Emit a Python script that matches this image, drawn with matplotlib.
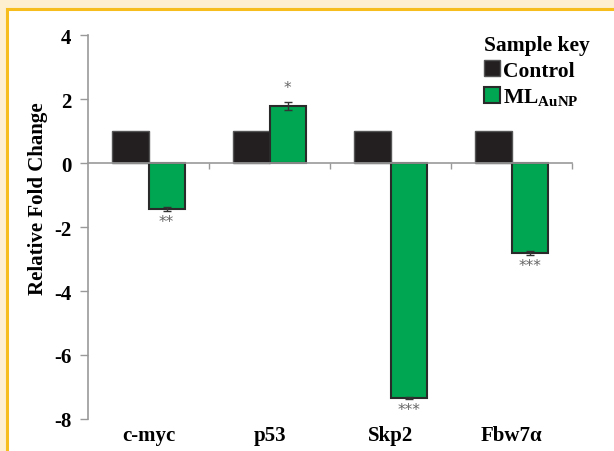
import matplotlib
matplotlib.use("Agg")
import matplotlib.pyplot as plt
import numpy as np
from matplotlib.patches import Rectangle

categories = ["c-myc", "p53", "Skp2", "Fbw7\u03b1"]
control = [1.0, 1.0, 1.0, 1.0]
ml_aunp = [-1.44, 1.78, -7.34, -2.81]
ml_err = [0.05, 0.13, 0.03, 0.06]
stars = ["**", "*", "***", "***"]
yticks = [4, 2, 0, -2, -4, -6, -8]

plt.rcParams['font.family'] = ['Liberation Serif', 'DejaVu Serif']
plt.rcParams['mathtext.fontset'] = 'custom'
plt.rcParams['mathtext.rm'] = 'Liberation Serif:bold'
plt.rcParams['mathtext.bf'] = 'Liberation Serif:bold'

fig = plt.figure(figsize=(6.14, 4.52), dpi=100, facecolor='#fdefcf')
fig.patches.append(Rectangle((7/614, -0.05), 1.1, (452-10)/452 + 0.05, transform=fig.transFigure,
                             facecolor='white', edgecolor='#f6bd1c', linewidth=2.2, zorder=-5))

ax = fig.add_axes([88/614, 1-420/452, 484/614, 384/452])
ax.set_facecolor('none')
x = np.arange(len(categories))
w = 0.30
ax.bar(x - w/2, control, w, color='#231f20', edgecolor='#555555', linewidth=1.0, zorder=2, label='Control')
ax.bar(x + w/2, ml_aunp, w, color='#00a651', edgecolor='#2a2a2a', linewidth=1.5, zorder=2,
       yerr=ml_err, error_kw=dict(ecolor='#333333', elinewidth=1, capsize=3, capthick=1),
       label=r'ML$_{\mathrm{AuNP}}$')

for xi, v, e, s in zip(x, ml_aunp, ml_err, stars):
    if v >= 0:
        ax.text(xi + w/2, v + e + 0.22, s, ha='center', va='bottom', fontsize=11, color='#666666', family='DejaVu Sans')
    else:
        ax.text(xi + w/2, v - e - 0.1, s, ha='center', va='top', fontsize=11, color='#666666', family='DejaVu Sans')

ax.set_xlim(-0.5, 3.5)
ax.set_ylim(-8, 4)
ax.set_yticks(yticks)
ax.set_yticklabels([str(t) for t in yticks], fontsize=15, fontweight='bold')
ax.tick_params(axis='y', direction='out', length=6, width=1, color='#999999', pad=6)
ax.set_ylabel('Relative Fold Change', fontsize=15, fontweight='bold')
ax.yaxis.set_label_coords(-0.083, (420-199)/384)

for s in ['top', 'right']:
    ax.spines[s].set_visible(False)
ax.spines['left'].set_color('#999999')
ax.spines['left'].set_linewidth(1.2)
ax.spines['bottom'].set_position(('data', 0))
ax.spines['bottom'].set_color('#999999')
ax.spines['bottom'].set_linewidth(1.2)
ax.spines['bottom'].set_zorder(3)
ax.set_xticks([0.5, 1.5, 2.5, 3.5])
ax.set_xticklabels([])
ax.tick_params(axis='x', direction='out', length=4, width=1, color='#999999')

sec = ax.secondary_xaxis(0)
sec.set_xticks(x)
sec.set_xticklabels(categories, fontsize=15, fontweight='bold')
sec.tick_params(length=0, pad=4)
sec.spines['bottom'].set_visible(False)

leg = ax.legend(loc='upper left', bbox_to_anchor=(484/614, 1-36/452), bbox_transform=fig.transFigure,
                frameon=False, title='Sample key', borderpad=0, borderaxespad=0,
                prop=dict(size=15.5, weight='bold'), title_fontproperties=dict(size=15.5, weight='bold'),
                handlelength=0.75, handleheight=0.75, handletextpad=0.15, labelspacing=0.25)
leg._legend_box.align = 'left'

fig.savefig('out.png', dpi=100, facecolor=fig.get_facecolor())
